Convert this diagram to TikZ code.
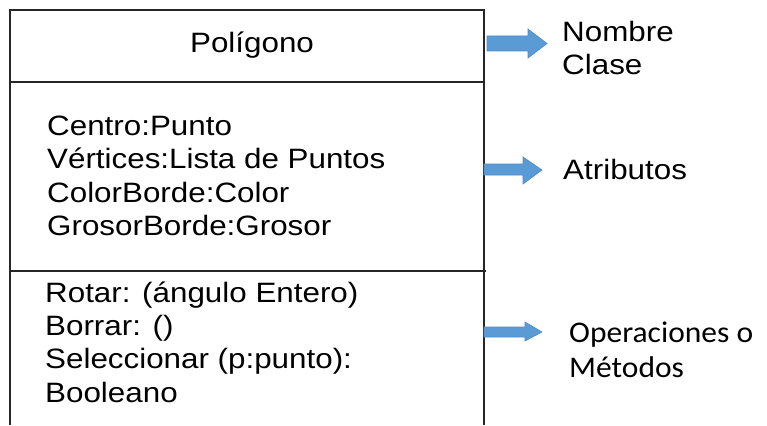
\documentclass[tikz,border=0pt]{standalone}
\usepackage{fontspec}
\setmainfont{Liberation Sans}
\newfontfamily\arialw[FakeStretch=1.12]{Liberation Sans}
\newfontfamily\calib[FakeStretch=1.05]{Carlito}
\definecolor{arrowblue}{HTML}{5B9BD5}
\definecolor{arrowedge}{HTML}{4F8AC4}
\definecolor{linegray}{HTML}{262626}
\begin{document}
\begin{tikzpicture}[x=1pt,y=-1pt,
  boxline/.style={line width=1.8pt, draw=linegray},
  umltext/.style={font=\arialw\fontsize{28}{33}\selectfont, anchor=base west, inner sep=0pt, text=black},
  titletext/.style={font=\arialw\fontsize{28}{33}\selectfont, anchor=base, inner sep=0pt, text=black},
  notetext/.style={font=\arialw\fontsize{28}{33}\selectfont, anchor=base west, inner sep=0pt, text=black},
  calibtext/.style={font=\calib\fontsize{30}{35}\selectfont, anchor=base west, inner sep=0pt, text=black},
  blockarrow/.style={fill=arrowblue, draw=arrowedge, line width=0.6pt}]
\useasboundingbox (0,0) rectangle (767,425);
% box
\coordinate (bl) at (10,425);
\coordinate (tl) at (10,10);
\coordinate (tr) at (484,10);
\coordinate (br) at (484,425);
\coordinate (s1l) at (10,82);
\coordinate (s1r) at (484,82);
\coordinate (s2l) at (10,271);
\coordinate (s2r) at (486,271);
\draw[boxline] (bl) -- (tl) -- (tr) -- (br);
\draw[boxline] (s1l) -- (s1r);
\draw[boxline] (s2l) -- (s2r);
% title
\node[titletext] (title) at (252,53) {Polígono};
% attributes
\node[umltext] (a1) at (47,135) {Centro:Punto};
\node[umltext] (a2) at (47,168.5) {Vértices:Lista de Puntos};
\node[umltext] (a3) at (47,202) {ColorBorde:Color};
\node[umltext] (a4) at (47,235.5) {GrosorBorde:Grosor};
% operations
\node[umltext] (o1) at (45,302) {Rotar: (ángulo Entero)};
\node[umltext] (o2) at (45,335) {Borrar: ()};
\node[umltext] (o3) at (45,368.5) {Seleccionar (p:punto):};
\node[umltext] (o4) at (45,402) {Booleano};
% arrows
\fill[blockarrow] (487,36) -- (528,36) -- (528,29) -- (547,43.5) -- (528,58) -- (528,51) -- (487,51) -- cycle;
\fill[blockarrow] (484,164) -- (523,164) -- (523,157) -- (542,170) -- (523,184) -- (523,175) -- (484,175) -- cycle;
\fill[blockarrow] (484,327) -- (525,327) -- (525,322) -- (542,332) -- (525,341) -- (525,337) -- (484,337) -- cycle;
% labels
\node[notetext] (n1) at (562,42) {Nombre};
\node[notetext] (n2) at (562,75) {Clase};
\node[notetext] (n3) at (563,179) {Atributos};
\node[calibtext] (n4) at (569,342) {Operaciones o};
\node[calibtext] (n5) at (569,377) {Métodos};
\end{tikzpicture}
\end{document}
